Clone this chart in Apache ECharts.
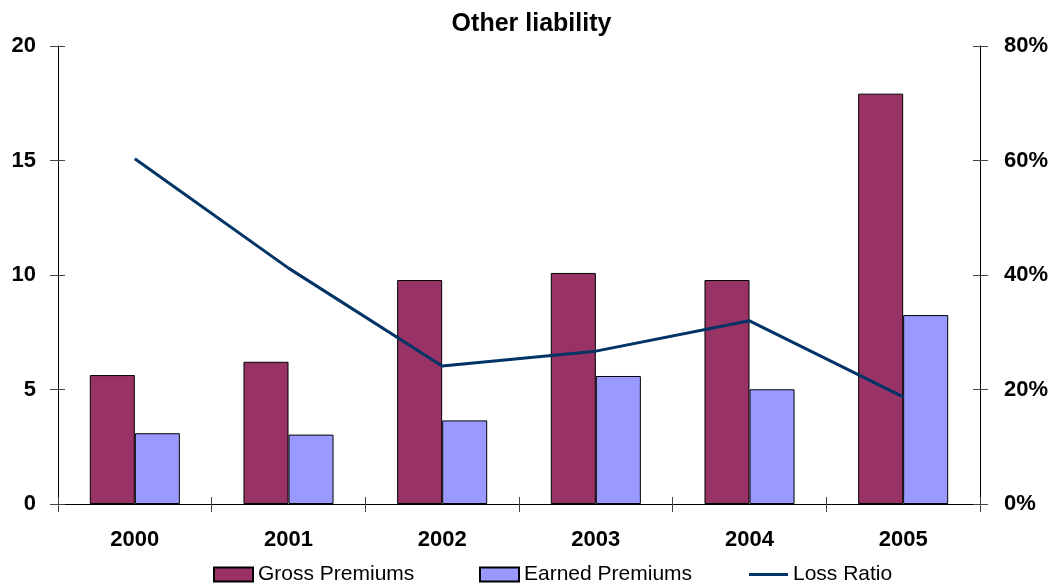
<!DOCTYPE html>
<html>
<head>
<meta charset="utf-8">
<script src="https://cdn.jsdelivr.net/npm/echarts@6/dist/echarts.min.js"></script>
<style>
  html, body { margin: 0; padding: 0; background: #ffffff; }
  #chart { width: 1063px; height: 586px; }
</style>
</head>
<body>
<div id="chart"></div>
<script>
// Premiums (left axis) and loss ratio in percent (right axis), by year
const years = ['2000', '2001', '2002', '2003', '2004', '2005'];
const grossPremiums = [5.63, 6.21, 9.78, 10.09, 9.78, 17.92];
const earnedPremiums = [3.09, 3.03, 3.65, 5.59, 5.01, 8.25];
const lossRatio = [60.3, 41.2, 24.1, 26.7, 32.0, 18.7];

const leftTicks = { min: 0, max: 20, interval: 5 };
const rightTicks = { min: 0, max: 80, interval: 20 };

const FONT = '"Liberation Sans", Arial, sans-serif';
const labelStyle = { fontFamily: FONT, fontSize: 22, fontWeight: 'bold', color: '#000' };
const tickColor = '#444';

const chart = echarts.init(document.getElementById('chart'), null, { renderer: 'canvas' });

// Second copy of each value axis, drawing the inner half of the crossing ticks
function innerValueAxis(pos, range) {
  return {
    type: 'value', position: pos, min: range.min, max: range.max, interval: range.interval,
    axisLine: { show: false }, splitLine: { show: false }, axisLabel: { show: false },
    axisTick: { show: true, inside: true, length: 7, lineStyle: { color: tickColor, width: 1 } }
  };
}

// One legend block per series so each entry sits at its own spot
function legendEntry(name, icon, left) {
  return {
    left: left, top: 564, padding: 0,
    itemWidth: 39, itemHeight: 14,
    textStyle: { fontFamily: FONT, fontSize: 21, color: '#000' },
    data: [{ name: name, icon: icon }]
  };
}

chart.setOption({
  animation: false,
  backgroundColor: '#ffffff',
  title: {
    text: 'Other liability',
    left: 'center',
    top: 7,
    textStyle: { fontFamily: FONT, fontSize: 25, fontWeight: 'bold', color: '#000' }
  },
  legend: [
    legendEntry('Gross Premiums', 'rect', 213),
    legendEntry('Earned Premiums', 'rect', 479),
    legendEntry('Loss Ratio', 'path://M0,0H40V3H0Z', 749)
  ],
  grid: { left: 58, right: 83, top: 46, bottom: 82, containLabel: false },
  xAxis: [
    {
      type: 'category', data: years, position: 'bottom',
      axisLine: { show: true, lineStyle: { color: '#000', width: 1 } },
      axisTick: { show: true, length: 8, lineStyle: { color: tickColor, width: 1 } },
      axisLabel: Object.assign({ margin: 25 }, labelStyle)
    },
    {
      type: 'category', data: years, position: 'bottom',
      axisLine: { show: false },
      axisTick: { show: true, inside: true, length: 7, lineStyle: { color: tickColor, width: 1 } },
      axisLabel: { show: false }
    }
  ],
  yAxis: [
    {
      type: 'value', position: 'left', min: leftTicks.min, max: leftTicks.max, interval: leftTicks.interval,
      axisLine: { show: true, lineStyle: { color: '#000', width: 1 } },
      axisTick: { show: true, length: 8, lineStyle: { color: tickColor, width: 1 } },
      splitLine: { show: false },
      axisLabel: Object.assign({ margin: 22 }, labelStyle)
    },
    {
      type: 'value', position: 'right', min: rightTicks.min, max: rightTicks.max, interval: rightTicks.interval,
      axisLine: { show: true, lineStyle: { color: '#000', width: 1 } },
      axisTick: { show: true, length: 8, lineStyle: { color: tickColor, width: 1 } },
      splitLine: { show: false },
      axisLabel: Object.assign({ margin: 24, formatter: '{value}%' }, labelStyle)
    },
    innerValueAxis('left', leftTicks),
    innerValueAxis('right', rightTicks)
  ],
  series: [
    {
      name: 'Gross Premiums', type: 'bar', data: grossPremiums,
      barWidth: '29.3%', barGap: '0%',
      itemStyle: { color: '#993366', borderColor: '#000', borderWidth: 1 }
    },
    {
      name: 'Earned Premiums', type: 'bar', data: earnedPremiums,
      barWidth: '29.3%', barGap: '0%',
      itemStyle: { color: '#9999FF', borderColor: '#000', borderWidth: 1 }
    },
    {
      name: 'Loss Ratio', type: 'line', yAxisIndex: 1, data: lossRatio,
      symbol: 'none', z: 5,
      lineStyle: { color: '#003366', width: 3 },
      itemStyle: { color: '#003366' }
    }
  ]
});
</script>
</body>
</html>
